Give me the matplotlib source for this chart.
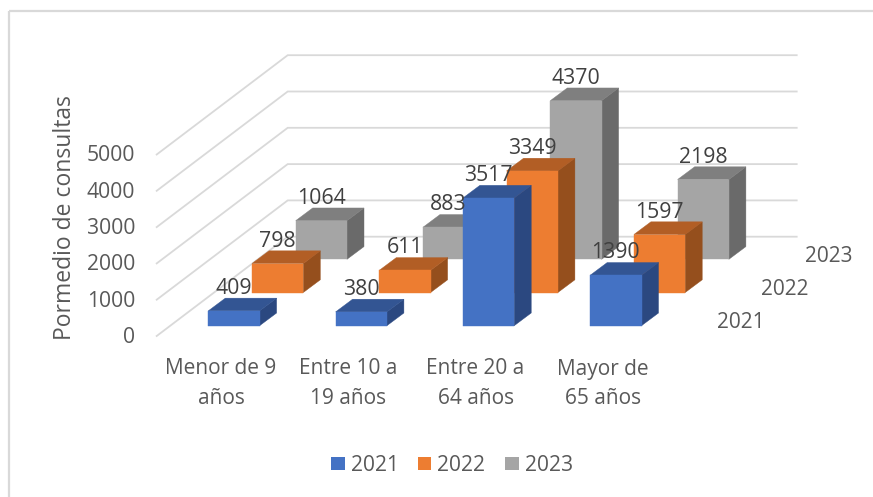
import matplotlib
matplotlib.use("Agg")
import matplotlib.pyplot as plt
from matplotlib.patches import Polygon, Rectangle

plt.rcParams['font.family'] = ['Open Sans', 'DejaVu Sans']

# ---- data
categories = ["Menor de 9\naños", "Entre 10 a\n19 años", "Entre 20 a\n64 años", "Mayor de\n65 años"]
series_names = ["2021", "2022", "2023"]
values_2021 = [409, 380, 3517, 1390]
values_2022 = [798, 611, 3349, 1597]
values_2023 = [1064, 883, 4370, 2198]
value_ticks = [0, 1000, 2000, 3000, 4000, 5000]
y_title = "Pormedio de consultas"

# ---- styles
all_values = [values_2021, values_2022, values_2023]
front = ["#4472C4", "#ED7D31", "#A5A5A5"]
top = ["#335593", "#B25E25", "#7F7F7F"]
side = ["#2B4880", "#954F1D", "#6A6A6A"]
grid = "#D9D9D9"
txt = "#595959"
lab = "#404040"

W, H = 873, 497
fig = plt.figure(figsize=(W / 100, H / 100), dpi=100, facecolor="white")
ax = fig.add_axes([0, 0, 1, 1])
ax.set_xlim(0, W)
ax.set_ylim(H, 0)
ax.axis("off")

# oblique projection: category, series, value -> canvas position
X0, Y0 = 208.3, 325.7
CAT_DX = 127.3
SER_DX, SER_DY = 43.7, -33.2
BAR_W = 51.3
DEP_DX, DEP_DY = 17.0, -12.7
PX_PER_UNIT = 181.5 / 5000


def proj(c, s, v=0.0):
    return (X0 + c * CAT_DX + s * SER_DX, Y0 + s * SER_DY - v * PX_PER_UNIT)


# walls: back wall right end, left wall lines
WALL_BACK_X, WALL_BACK_Y = 287.7, 236.7
WALL_FRONT_X, WALL_FRONT_Y = 156.7, 336.0
WALL_RIGHT_X = 796.7
for t in value_ticks:
    dy = t * PX_PER_UNIT
    ax.plot([WALL_FRONT_X, WALL_BACK_X, WALL_RIGHT_X],
            [WALL_FRONT_Y - dy, WALL_BACK_Y - dy, WALL_BACK_Y - dy],
            color=grid, lw=1.3, solid_joinstyle="miter", zorder=1)
    ax.text(135, 337.5 - t * 0.03635, f"{t}", ha="right", va="center",
            fontsize=15.2, color=txt, zorder=5)

# bars, back to front
z = 2
for s in (2, 1, 0):
    for c, v in enumerate(all_values[s]):
        x, yb = proj(c, s)
        _, yt = proj(c, s, v)
        ax.add_patch(Polygon([(x + BAR_W, yb), (x + BAR_W + DEP_DX, yb + DEP_DY),
                              (x + BAR_W + DEP_DX, yt + DEP_DY), (x + BAR_W, yt)],
                             fc=side[s], ec=side[s], lw=0.3, zorder=z))
        ax.add_patch(Polygon([(x, yt), (x + DEP_DX, yt + DEP_DY),
                              (x + BAR_W + DEP_DX, yt + DEP_DY), (x + BAR_W, yt)],
                             fc=top[s], ec=top[s], lw=0.3, zorder=z))
        ax.add_patch(Rectangle((x, yt), BAR_W, yb - yt, fc=front[s], ec=front[s], lw=0.3, zorder=z))
        z += 0.01

# data labels on top
for s in range(3):
    for c, v in enumerate(all_values[s]):
        x, yt = proj(c, s, v)
        ax.text(x + BAR_W / 2, yt - 22.5, f"{v}", ha="center", va="center",
                fontsize=15.3, color=lab, zorder=10)

# category labels
for c, name in enumerate(categories):
    ax.text(221 + c * CAT_DX, 383.5, name, ha="center", va="center", fontsize=15.0,
            color=txt, linespacing=1.5, zorder=5)

# depth axis labels
for s, name in enumerate(series_names):
    ax.text(741 + s * SER_DX, 322.5 + s * SER_DY, name, ha="center", va="center",
            fontsize=15.0, color=txt, zorder=5)

# y title
ax.text(65, 217.5, y_title, rotation=90, ha="center", va="center", fontsize=16.5,
        color=txt, zorder=5)

# legend
for s, (name, lx) in enumerate(zip(series_names, (331, 417.5, 505))):
    ax.add_patch(Rectangle((lx, 456.5), 13.5, 13.5, fc=front[s], ec="none", zorder=5))
    ax.text(lx + 20, 465.5, name, ha="left", va="center", fontsize=15.1, color=txt, zorder=5)

# chart frame
ax.plot([9, 9], [H, 11], color=grid, lw=1.6, solid_capstyle="butt", zorder=0)
ax.plot([9, W], [11, 11], color=grid, lw=1.6, solid_capstyle="butt", zorder=0)

fig.savefig("out.png", dpi=100)
